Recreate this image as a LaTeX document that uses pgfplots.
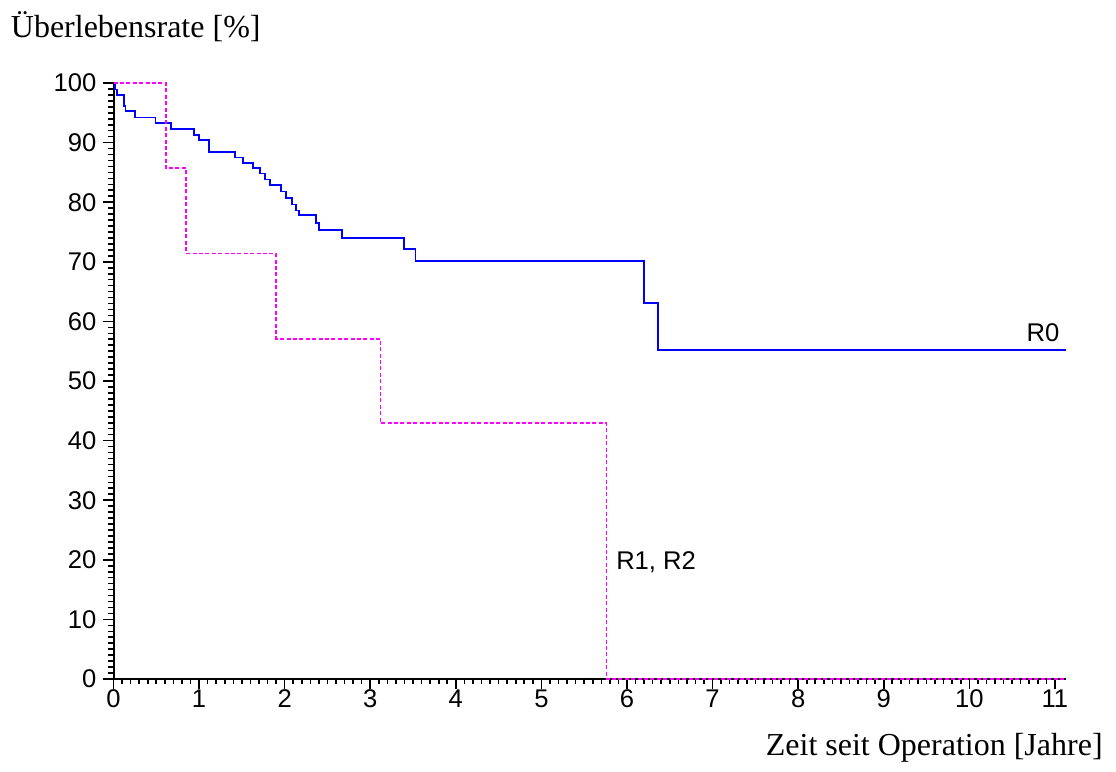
\documentclass[border=0pt]{standalone}
\usepackage{pgfplots}
\pgfplotsset{compat=1.18}
\usepackage{fontspec}
\setmainfont{Liberation Serif}
\newfontfamily\arial{Liberation Sans}
\definecolor{kmblue}{RGB}{0,0,255}
\definecolor{kmmagenta}{RGB}{255,0,255}

\begin{document}
\begin{tikzpicture}
\begin{axis}[
    at={(0,0)}, anchor=south west,
    scale only axis,
    width=476.25bp, height=298bp,
    xmin=0, xmax=11.13,
    ymin=0, ymax=100,
    axis x line*=bottom,
    axis y line*=left,
    axis line style={-, line width=1bp},
    xtick={0,1,...,11},
    ytick={0,10,...,100},
    minor x tick num=9,
    minor y tick num=9,
    tick align=outside,
    major tick length=5bp,
    minor tick length=2.5bp,
    tick style={black, line width=0.8bp},
    /pgf/number format/assume math mode=true,
    ticklabel style={font=\arial\fontsize{12.8bp}{14bp}\selectfont},
    xticklabel style={yshift=3bp},
    clip=false,
]
\addplot[const plot, kmblue, line width=0.9bp] coordinates {
    (0,100) (0.018,98.9) (0.037,98.0) (0.12,96.1) (0.14,95.3) (0.25,94.2)
    (0.49,93.3) (0.67,92.3) (0.94,91.3) (1.0,90.5) (1.12,88.4) (1.42,87.5)
    (1.51,86.6) (1.63,85.7) (1.71,84.8) (1.77,83.8) (1.83,82.9) (1.96,81.8)
    (2.02,80.7) (2.09,79.6) (2.13,78.6) (2.17,77.8) (2.37,76.5) (2.40,75.4)
    (2.67,74.0) (3.39,72.2) (3.53,70.1) (6.20,63.1) (6.36,55.2) (11.13,55.2)
};
\addplot[const plot, kmmagenta, line width=0.85bp, dash pattern=on 2bp off 1.2bp] coordinates {
    (0,100) (0.61,85.7) (0.85,71.4) (1.90,57.1) (3.12,42.9) (5.76,0) (11.13,0)
};
\node[font=\arial\fontsize{12.8bp}{14bp}\selectfont] at (axis cs:10.86,58.1) {R0};
\node[anchor=west, inner sep=0pt, font=\arial\fontsize{12.8bp}{14bp}\selectfont] at (axis cs:5.87,19.6) {R1, R2};
\end{axis}
\node[anchor=west, inner sep=0pt, font=\fontsize{16bp}{18bp}\selectfont] at (-51.5bp,326bp) {Überlebensrate [\%]};
\node[anchor=east, inner sep=0pt, font=\fontsize{16bp}{18bp}\selectfont] at (494.75bp,-34.5bp) {Zeit seit Operation [Jahre]};
\useasboundingbox (-56.75bp,-46.5bp) rectangle (501.25bp,339.5bp);
\end{tikzpicture}
\end{document}
